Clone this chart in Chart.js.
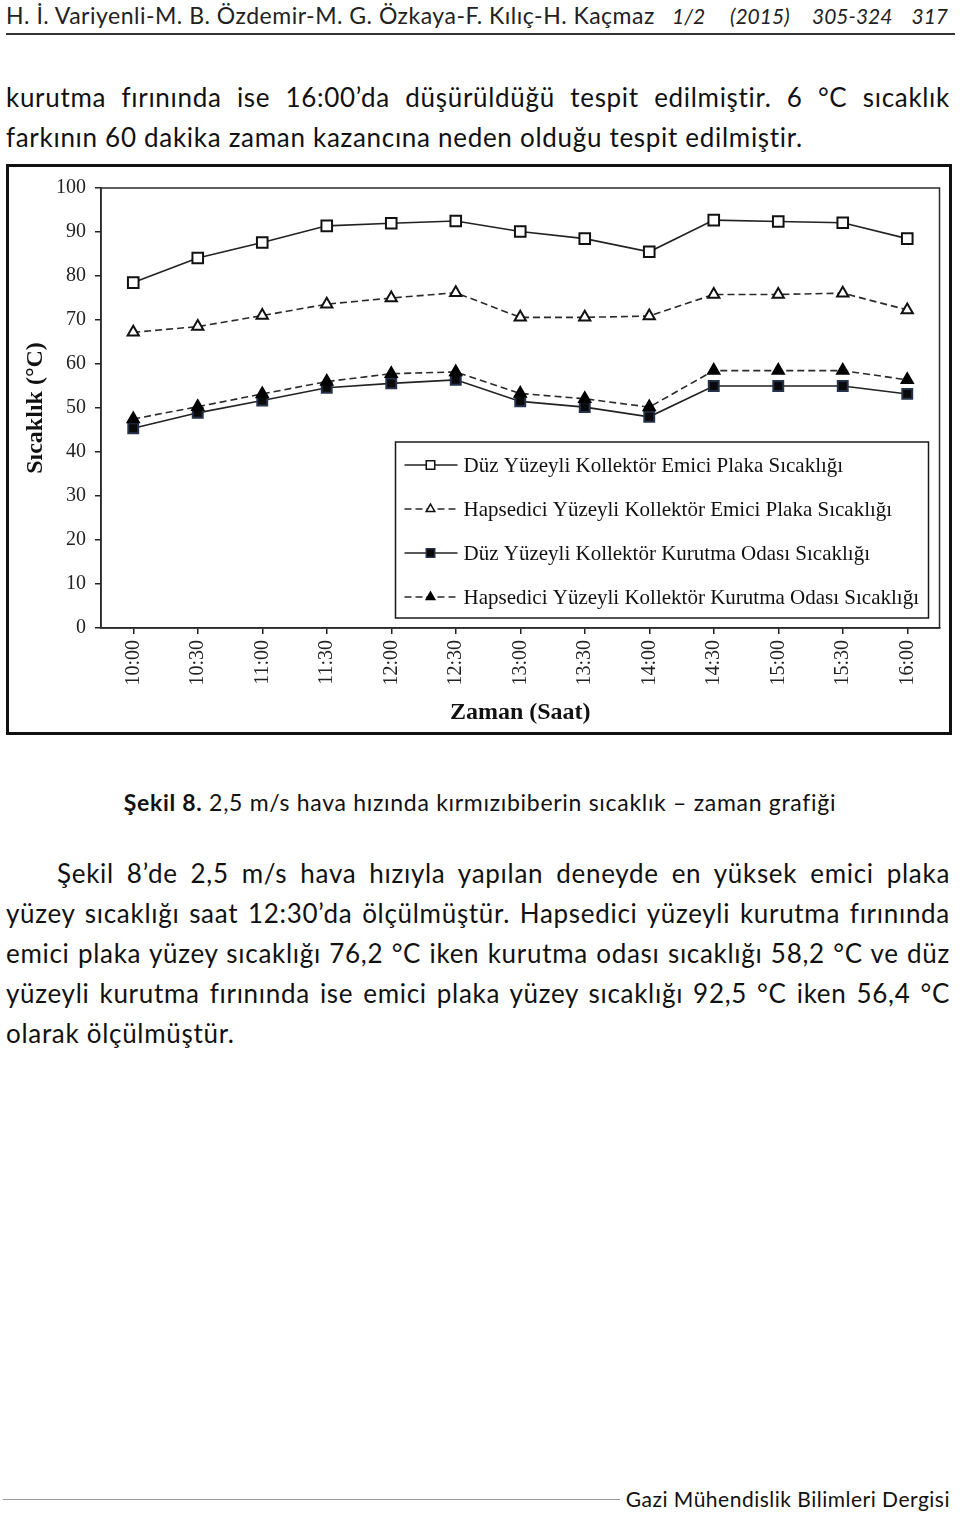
<!DOCTYPE html>
<html lang="tr">
<head>
<meta charset="utf-8">
<script src="https://cdn.jsdelivr.net/npm/chart.js@4/dist/chart.umd.min.js"></script>
<style>
  html, body { margin: 0; padding: 0; background: #fff; }
  body { width: 960px; height: 1514px; position: relative; overflow: hidden; font-family: Lato, "Open Sans", sans-serif; color: #111; }
  .abs { position: absolute; white-space: nowrap; }
  .hdr { top: 1px; font-size: 23px; line-height: 28px; letter-spacing: 0.5px; color: #222; }
  .hdr i { font-style: italic; font-size: 21px; letter-spacing: 0; }
  .rule { position: absolute; left: 6px; width: 949px; top: 33px; height: 2px; background: #333; }
  .line { position: absolute; left: 6px; width: 944px; font-size: 26px; letter-spacing: 0.7px; line-height: 40px; text-align: justify; text-align-last: justify; white-space: nowrap; }
  .last { text-align-last: left; }
  .box { position: absolute; left: 6px; top: 164px; width: 946px; height: 571px; border: 3px solid #111; box-sizing: border-box; background: #fff; }
  #wrap { position: absolute; left: 9px; top: 167px; width: 940px; height: 565px; }
  .cap { position: absolute; left: 0; width: 960px; top: 787px; text-align: center; font-size: 23px; letter-spacing: 0.7px; line-height: 30px; }
  .foot { position: absolute; left: 3px; width: 617px; top: 1499px; height: 1px; background: #999; }
</style>
</head>
<body>

<div class="abs hdr" style="left:6px">H. İ. Variyenli-M. B. Özdemir-M. G. Özkaya-F. Kılıç-H. Kaçmaz</div>
<div class="abs hdr" style="left:672px"><i>1/2</i></div>
<div class="abs hdr" style="left:730px"><i>(2015)</i></div>
<div class="abs hdr" style="left:812px"><i>305-324</i></div>
<div class="abs hdr" style="right:12px"><i>317</i></div>
<div class="rule"></div>

<div class="line" style="top:77px">kurutma fırınında ise 16:00’da düşürüldüğü tespit edilmiştir. 6 °C sıcaklık</div>
<div class="line last" style="top:117px">farkının 60 dakika zaman kazancına neden olduğu tespit edilmiştir.</div>

<div class="box"></div>
<div id="wrap"><canvas id="tempChart" width="940" height="565"></canvas></div>

<div class="cap"><b>Şekil 8.</b> 2,5 m/s hava hızında kırmızıbiberin sıcaklık – zaman grafiği</div>

<div class="line" style="top:853px; left:57px; width:893px">Şekil 8’de 2,5 m/s hava hızıyla yapılan deneyde en yüksek emici plaka</div>
<div class="line" style="top:893px">yüzey sıcaklığı saat 12:30’da ölçülmüştür. Hapsedici yüzeyli kurutma fırınında</div>
<div class="line" style="top:933px">emici plaka yüzey sıcaklığı 76,2 °C iken kurutma odası sıcaklığı 58,2 °C ve düz</div>
<div class="line" style="top:973px">yüzeyli kurutma fırınında ise emici plaka yüzey sıcaklığı 92,5 °C iken 56,4 °C</div>
<div class="line last" style="top:1013px">olarak ölçülmüştür.</div>

<div class="foot"></div>
<div class="abs" style="right:10px; top:1486px; font-size:21px; letter-spacing:0.5px; line-height:26px; color:#111">Gazi Mühendislik Bilimleri Dergisi</div>

<script>
// =======================
// DATA
// =======================
const times = ["10:00", "10:30", "11:00", "11:30", "12:00", "12:30", "13:00",
               "13:30", "14:00", "14:30", "15:00", "15:30", "16:00"];

const duzEmici       = [78.5, 84.1, 87.6, 91.4, 92.0, 92.5, 90.1, 88.5, 85.5, 92.7, 92.4, 92.1, 88.5];
const hapsediciEmici = [67.2, 68.5, 71.0, 73.6, 75.0, 76.2, 70.6, 70.6, 70.9, 75.8, 75.8, 76.1, 72.3];
const duzKurutma     = [45.4, 48.9, 51.7, 54.6, 55.6, 56.4, 51.5, 50.2, 48.0, 55.0, 55.0, 55.0, 53.2];
const hapsediciKurutma = [47.5, 50.3, 53.2, 56.0, 57.8, 58.2, 53.3, 52.1, 50.2, 58.5, 58.5, 58.5, 56.4];

const seriesNames = [
    "Düz Yüzeyli Kollektör Emici Plaka Sıcaklığı",
    "Hapsedici Yüzeyli Kollektör Emici Plaka Sıcaklığı",
    "Düz Yüzeyli Kollektör Kurutma Odası Sıcaklığı",
    "Hapsedici Yüzeyli Kollektör Kurutma Odası Sıcaklığı"
];

const yTicks = [0, 10, 20, 30, 40, 50, 60, 70, 80, 90, 100];

const serif = "'Liberation Serif', 'Times New Roman', serif";

// =======================
// PLOT FRAME + LEGEND BOX
// =======================
const frameAndLegend = {
    id: "frameAndLegend",
    afterDraw(chart) {
        const ctx = chart.ctx;
        const a = chart.chartArea;
        ctx.save();

        // frame around the plot area
        ctx.strokeStyle = "#2b2b2b";
        ctx.lineWidth = 1.5;
        ctx.strokeRect(a.left, a.top, a.right - a.left, a.bottom - a.top);

        // legend box inside the plot, bottom right
        const w = 533, h = 176;
        const x0 = a.right - 11 - w;
        const y0 = a.bottom - 10 - h;
        ctx.fillStyle = "#fff";
        ctx.fillRect(x0, y0, w, h);
        ctx.strokeStyle = "#1a1a1a";
        ctx.lineWidth = 1.5;
        ctx.strokeRect(x0, y0, w, h);

        chart.data.datasets.forEach((ds, i) => {
            let y = y0 + 23 + i * 44;

            ctx.beginPath();
            ctx.setLineDash(ds.borderDash || []);
            ctx.strokeStyle = ds.borderColor;
            ctx.lineWidth = ds.borderWidth;
            ctx.moveTo(x0 + 9, y);
            ctx.lineTo(x0 + 62, y);
            ctx.stroke();
            ctx.setLineDash([]);

            ctx.fillStyle = ds.pointBackgroundColor;
            ctx.strokeStyle = ds.pointBorderColor;
            ctx.lineWidth = 1.5;
            Chart.helpers.drawPoint(ctx, {
                pointStyle: ds.pointStyle,
                radius: ds.pointStyle === "rect" ? 6 : 5,
                rotation: 0,
                borderWidth: 1.5
            }, x0 + 35, y);

            ctx.fillStyle = "#111";
            ctx.font = "21px " + serif;
            ctx.textBaseline = "middle";
            ctx.textAlign = "left";
            ctx.fillText(ds.label, x0 + 68, y + 1);
        });

        ctx.restore();
    }
};

// =======================
// CHART
// =======================
function makeSeries(label, values, opts) {
    return Object.assign({
        label: label,
        data: values,
        borderColor: "#222",
        borderWidth: 1.6,
        tension: 0,
        fill: false,
        pointBorderWidth: 2,
        pointHoverRadius: 7
    }, opts);
}

new Chart(document.getElementById("tempChart"), {
    type: "line",
    data: {
        labels: times,
        datasets: [
            makeSeries(seriesNames[0], duzEmici, {
                pointStyle: "rect", pointRadius: 7.5,
                pointBackgroundColor: "#fff", pointBorderColor: "#111"
            }),
            makeSeries(seriesNames[1], hapsediciEmici, {
                borderDash: [7, 4], borderColor: "#2a2a2a",
                pointStyle: "triangle", pointRadius: 6.5,
                pointBackgroundColor: "#fff", pointBorderColor: "#111"
            }),
            makeSeries(seriesNames[2], duzKurutma, {
                pointStyle: "rect", pointRadius: 7,
                pointBackgroundColor: "#0a0a0a", pointBorderColor: "#26314a"
            }),
            makeSeries(seriesNames[3], hapsediciKurutma, {
                borderDash: [7, 4], borderColor: "#2a2a2a",
                pointStyle: "triangle", pointRadius: 6.5,
                pointBackgroundColor: "#000", pointBorderColor: "#000",
                order: -1
            })
        ]
    },
    options: {
        responsive: false,
        animation: false,
        devicePixelRatio: 1,
        layout: { padding: { top: 21, right: 9, left: 0, bottom: 0 } },
        plugins: {
            legend: { display: false },
            tooltip: { enabled: false }
        },
        scales: {
            x: {
                offset: true,
                grid: { display: true, drawOnChartArea: false, drawTicks: true, tickLength: 6, color: "#222", lineWidth: 1.5, offset: false },
                border: { color: "#222", width: 1.5 },
                ticks: {
                    autoSkip: false, minRotation: 90, maxRotation: 90, padding: 6,
                    color: "#222", font: { family: serif, size: 20 }
                },
                title: {
                    display: true, text: "Zaman (Saat)", color: "#111",
                    font: { family: serif, size: 24, weight: "bold" },
                    padding: { top: 0, bottom: 5 }
                },
                afterFit(scale) { scale.height = 104; }
            },
            y: {
                min: 0, max: 100,
                afterBuildTicks(scale) { scale.ticks = yTicks.map(v => ({ value: v })); },
                grid: { display: true, drawOnChartArea: false, drawTicks: true, tickLength: 6, color: "#222", lineWidth: 1.5 },
                border: { color: "#222", width: 1.5 },
                ticks: { padding: 9, color: "#222", font: { family: serif, size: 20 } },
                title: {
                    display: true, text: "Sıcaklık (°C)", color: "#111",
                    font: { family: serif, size: 24, weight: "bold" },
                    padding: { top: 12, bottom: 0 }
                },
                afterFit(scale) { scale.width = 92; }
            }
        }
    },
    plugins: [frameAndLegend]
});
</script>
</body>
</html>
